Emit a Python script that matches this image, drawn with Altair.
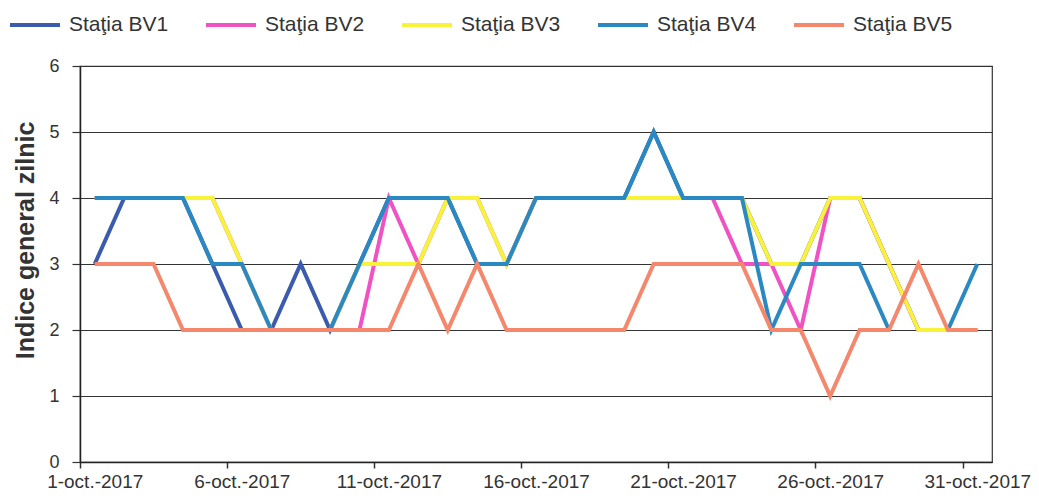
import altair as alt
import pandas as pd

days = list(range(1, 32))
series_names = ["Staţia BV1", "Staţia BV2", "Staţia BV3", "Staţia BV4", "Staţia BV5"]
bv1 = [3, 4, 4, 4, 3, 2, 2, 3, 2, 3, 4, 4, 4, 3, 3, 4, 4, 4, 4, 5, 4, 4, 4, 3, 3, 4, 4, 3, 2, 2, 2]
bv2 = [4, 4, 4, 4, 4, 3, 2, 2, 2, 2, 4, 3, 4, 4, 3, 4, 4, 4, 4, 4, 4, 4, 3, 3, 2, 4, 4, 3, 2, 2, 2]
bv3 = [4, 4, 4, 4, 4, 3, 2, 2, 2, 3, 3, 3, 4, 4, 3, 4, 4, 4, 4, 4, 4, 4, 4, 3, 3, 4, 4, 3, 2, 2, 2]
bv4 = [4, 4, 4, 4, 3, 3, 2, 2, 2, 3, 4, 4, 4, 3, 3, 4, 4, 4, 4, 5, 4, 4, 4, 2, 3, 3, 3, 2, None, 2, 3]
bv5 = [3, 3, 3, 2, 2, 2, 2, 2, 2, 2, 2, 3, 2, 3, 2, 2, 2, 2, 2, 3, 3, 3, 3, 2, 2, 1, 2, 2, 3, 2, 2]
colors = ["#3B5BAE", "#F052C4", "#F8F23A", "#2A88C2", "#F5876C"]
x_label_days = [1, 6, 11, 16, 21, 26, 31]
y_ticks = [0, 1, 2, 3, 4, 5, 6]

rows = []
for name, vals in zip(series_names, [bv1, bv2, bv3, bv4, bv5]):
    for d, v in zip(days, vals):
        rows.append({"day": d, "value": v, "series": name})
df = pd.DataFrame(rows)

W = 912
H = 396
step = W / 31.0
FONT = "Liberation Sans"

base = alt.Chart(df).mark_line(strokeWidth=4, invalid="break-paths-show-domains").encode(
    x=alt.X("day:Q",
            scale=alt.Scale(domain=[0.5, 31.5], nice=False, zero=False),
            axis=alt.Axis(values=x_label_days, title=None, grid=False,
                          labelExpr="datum.value + '-oct.-2017'",
                          tickOffset=-step / 2, labelOffset=step / 2,
                          tickSize=6, labelPadding=4, labelFontSize=19,
                          labelFont=FONT, labelColor="#333",
                          domainColor="#222", domainWidth=1.5,
                          tickColor="#333", tickWidth=1.5, labelFlush=False)),
    y=alt.Y("value:Q",
            scale=alt.Scale(domain=[0, 6], nice=False),
            axis=alt.Axis(values=y_ticks, title="Indice general zilnic",
                          titleFont=FONT, titleFontSize=25, titleFontWeight="bold",
                          titleColor="#333", titleX=-55, titleY=174,
                          titleAlign="center", titleBaseline="middle", titleAngle=270,
                          labelFont=FONT, labelFontSize=18, labelColor="#333",
                          labelPadding=13, tickSize=8, tickColor="#333", tickWidth=1.2,
                          gridColor="#333", gridWidth=1.2, gridOpacity=1,
                          domainColor="#222", domainWidth=1.5)),
    color=alt.Color("series:N",
                    scale=alt.Scale(domain=series_names, range=colors),
                    legend=alt.Legend(title=None, orient="none", direction="horizontal",
                                      columns=5, legendX=-72, legendY=-68,
                                      symbolType="stroke", symbolSize=2500,
                                      symbolStrokeWidth=4, labelOffset=7,
                                      labelFont=FONT, labelFontSize=21,
                                      labelColor="#333", columnPadding=29,
                                      gridAlign="all", labelLimit=200)),
)

layers = [base.transform_filter(alt.datum.series == n) for n in series_names]

chart = alt.layer(*layers).properties(
    width=W, height=H,
    autosize=alt.AutoSizeParams(type="none"),
    padding={"left": 72, "top": 58, "right": 39, "bottom": 31},
    background="white",
).configure_view(stroke="#333", strokeWidth=1.2)

chart.save("out.html", embed_options={"renderer": "svg", "actions": False})
